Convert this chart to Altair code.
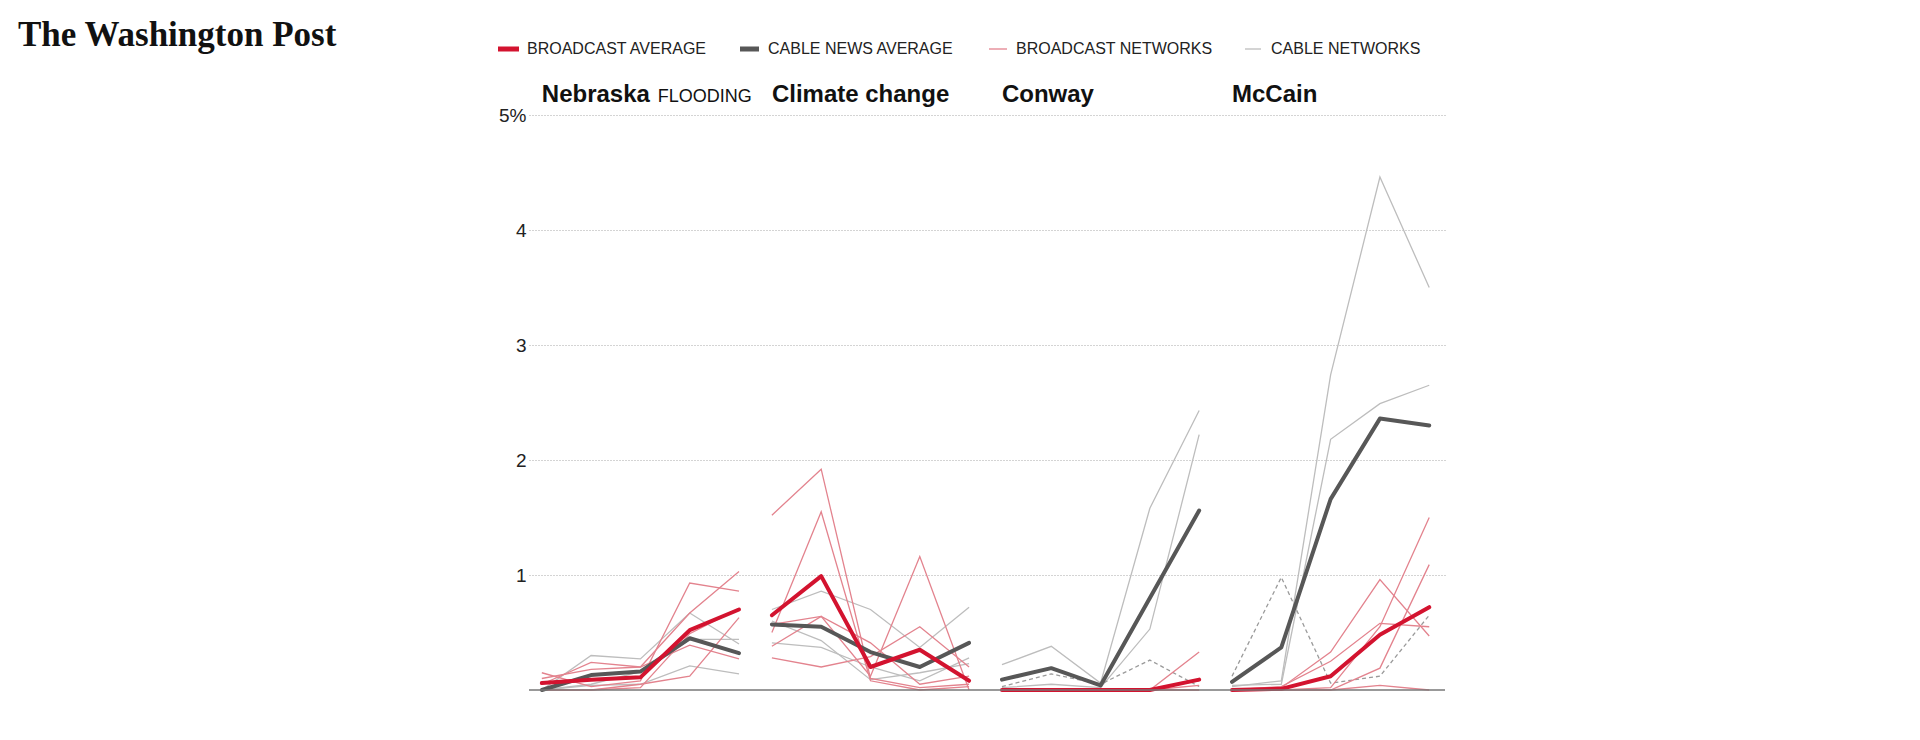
import altair as alt
import pandas as pd

# ---------------- data ----------------
PANELS = ["Nebraska", "Climate change", "Conway", "McCain"]
PANEL_NOTES = ["FLOODING", "", "", ""]
POINTS = [0, 1, 2, 3, 4]

BROADCAST_AVG = {
    "Nebraska": [0.06, 0.09, 0.11, 0.52, 0.70],
    "Climate change": [0.65, 0.99, 0.20, 0.35, 0.08],
    "Conway": [0.0, 0.0, 0.0, 0.0, 0.09],
    "McCain": [0.0, 0.01, 0.12, 0.48, 0.72],
}
CABLE_AVG = {
    "Nebraska": [0.0, 0.13, 0.16, 0.45, 0.32],
    "Climate change": [0.57, 0.55, 0.33, 0.20, 0.41],
    "Conway": [0.09, 0.19, 0.04, 0.80, 1.56],
    "McCain": [0.07, 0.37, 1.66, 2.36, 2.30],
}
BROADCAST_NETS = {
    "Nebraska": [
        [0.15, 0.03, 0.08, 0.93, 0.86],
        [0.10, 0.18, 0.20, 0.67, 1.03],
        [0.05, 0.24, 0.20, 0.39, 0.27],
        [0.00, 0.00, 0.05, 0.12, 0.63],
        [0.00, 0.00, 0.02, 0.49, 0.71],
    ],
    "Climate change": [
        [1.52, 1.92, 0.10, 0.02, 0.05],
        [0.50, 1.55, 0.08, 0.00, 0.03],
        [0.38, 0.64, 0.12, 1.16, 0.00],
        [0.28, 0.20, 0.29, 0.55, 0.20],
        [0.57, 0.64, 0.41, 0.05, 0.12],
    ],
    "Conway": [
        [0.0, 0.0, 0.0, 0.00, 0.33],
        [0.0, 0.0, 0.0, 0.01, 0.08],
        [0.0, 0.0, 0.0, 0.00, 0.04],
        [0.0, 0.0, 0.0, 0.00, 0.00],
        [0.0, 0.0, 0.0, 0.00, 0.00],
    ],
    "McCain": [
        [0.0, 0.02, 0.33, 0.96, 0.47],
        [0.0, 0.03, 0.25, 0.58, 0.55],
        [0.0, 0.00, 0.00, 0.19, 1.09],
        [0.0, 0.00, 0.02, 0.55, 1.50],
        [0.0, 0.00, 0.00, 0.04, 0.00],
    ],
}
CABLE_NETS = {
    "Nebraska": [
        [0.00, 0.30, 0.27, 0.67, 0.40],
        [0.00, 0.05, 0.16, 0.44, 0.44],
        [0.00, 0.04, 0.05, 0.21, 0.14],
    ],
    "Climate change": [
        [0.70, 0.86, 0.70, 0.37, 0.72],
        [0.41, 0.37, 0.20, 0.08, 0.28],
        [0.60, 0.43, 0.09, 0.15, 0.23],
    ],
    "Conway": [
        [0.22, 0.38, 0.06, 1.58, 2.43],
        [0.02, 0.05, 0.02, 0.53, 2.22],
        [0.03, 0.14, 0.05, 0.26, 0.03],
    ],
    "McCain": [
        [0.03, 0.08, 2.74, 4.46, 3.50],
        [0.04, 0.05, 2.18, 2.49, 2.65],
        [0.12, 0.98, 0.06, 0.12, 0.65],
    ],
}
# panels in which the third cable network is drawn dashed
DASHED_PANELS = ["Conway", "McCain"]

LEGEND_LABELS = ["BROADCAST AVERAGE", "CABLE NEWS AVERAGE", "BROADCAST NETWORKS", "CABLE NETWORKS"]
Y_TICKS = [1, 2, 3, 4, 5]

# ---------------- layout / style ----------------
PANEL_STEP = 14 / 3
RED = "#d3132f"
DARK = "#575757"
PINK = "#e3838e"
GRAY = "#bdbdbd"
FONT = "Liberation Sans"

rows = []
for p, panel in enumerate(PANELS):
    def add(kind, sid, vals, dashed=False):
        for i, v in zip(POINTS, vals):
            rows.append(dict(panel=panel, kind=kind, sid=f"{panel}-{sid}",
                             dashed=dashed, x=p * PANEL_STEP + i, value=v))
    for k, vals in enumerate(CABLE_NETS[panel]):
        add("cnet", f"c{k}", vals, dashed=(k == 2 and panel in DASHED_PANELS))
    for k, vals in enumerate(BROADCAST_NETS[panel]):
        add("bnet", f"b{k}", vals)
    add("cavg", "cavg", CABLE_AVG[panel])
    add("bavg", "bavg", BROADCAST_AVG[panel])
df = pd.DataFrame(rows)

xscale = alt.Scale(domain=[-0.26, 3 * PANEL_STEP + 4 + 0.32], nice=False, zero=False)
yscale = alt.Scale(domain=[0, 5], nice=False)

base = alt.Chart(df).encode(
    x=alt.X("x:Q", scale=xscale, axis=None),
    y=alt.Y("value:Q", scale=yscale,
            axis=alt.Axis(values=Y_TICKS, title=None, domain=False, ticks=False,
                          format="d",
                          labelPadding=3, labelFontSize=19, labelFont=FONT,
                          labelColor="#222",
                          labelExpr="datum.value == 5 ? '5%' : datum.label",
                          grid=True, gridDash=[1, 2], gridColor="#a8a8a8",
                          gridWidth=1)),
    detail="sid:N",
)

cable_solid = base.transform_filter("datum.kind == 'cnet' && !datum.dashed").mark_line(
    color=GRAY, strokeWidth=1.3)
cable_dashed = base.transform_filter("datum.kind == 'cnet' && datum.dashed").mark_line(
    color="#9a9a9a", strokeWidth=1.3, strokeDash=[4, 3])
bnets = base.transform_filter("datum.kind == 'bnet'").mark_line(
    color=PINK, strokeWidth=1.3)
cavg = base.transform_filter("datum.kind == 'cavg'").mark_line(
    color=DARK, strokeWidth=4, strokeCap="round", strokeJoin="round")
bavg = base.transform_filter("datum.kind == 'bavg'").mark_line(
    color=RED, strokeWidth=4, strokeCap="round", strokeJoin="round")

baseline = alt.Chart(pd.DataFrame({"v": [0]})).mark_rule(
    color="#777", strokeWidth=1.3).encode(y=alt.Y("v:Q", scale=yscale))

# panel titles, placed through the x scale at each panel's first point
titles_df = pd.DataFrame({"panel": PANELS, "note": PANEL_NOTES,
                          "x": [p * PANEL_STEP for p in range(len(PANELS))]})
titles = alt.Chart(titles_df).mark_text(
    align="left", baseline="alphabetic", font=FONT, fontSize=24,
    fontWeight="bold", color="#111").encode(
    x=alt.X("x:Q", scale=xscale), y=alt.value(-13), text="panel:N")
notes = alt.Chart(titles_df).transform_filter("datum.note != ''").mark_text(
    align="left", baseline="alphabetic", font=FONT, fontSize=18,
    color="#111", dx=116).encode(
    x=alt.X("x:Q", scale=xscale), y=alt.value(-13), text="note:N")

# legend (custom, to show thick and thin strokes)
leg_df = pd.DataFrame({
    "label": LEGEND_LABELS,
    "x0": [-31, 211, 460, 716],
    "x1": [-10, 230, 478, 732],
    "tx": [-2, 239, 487, 742],
    "color": [RED, DARK, PINK, GRAY],
    "w": [5, 5, 1.3, 1.3],
})
leg_sw = alt.Chart(leg_df).mark_rule().encode(
    x=alt.X("x0:Q", scale=None), x2="x1:Q", y=alt.value(-66),
    color=alt.Color("color:N", scale=None),
    strokeWidth=alt.StrokeWidth("w:Q", scale=None))
leg_tx = alt.Chart(leg_df).mark_text(
    align="left", baseline="middle", font=FONT, fontSize=16, color="#222").encode(
    x=alt.X("tx:Q", scale=None), y=alt.value(-66), text="label:N")

logo = alt.Chart(pd.DataFrame({"t": ["The Washington Post"]})).mark_text(
    align="left", baseline="alphabetic", font="Liberation Serif", fontSize=35,
    fontWeight="bold", color="#111").encode(
    x=alt.value(-511), y=alt.value(-69), text="t:N")

chart = alt.layer(
    cable_solid, cable_dashed, bnets, cavg, bavg, baseline,
    titles, notes, leg_sw, leg_tx, logo,
).properties(
    width=916, height=575,
    padding={"left": 521, "top": 107, "right": 40, "bottom": 30},
    autosize=alt.AutoSizeParams(type="none"),
    background="white",
).configure_view(stroke=None)

chart.save("out.html", embed_options={"renderer": "svg", "actions": False})
